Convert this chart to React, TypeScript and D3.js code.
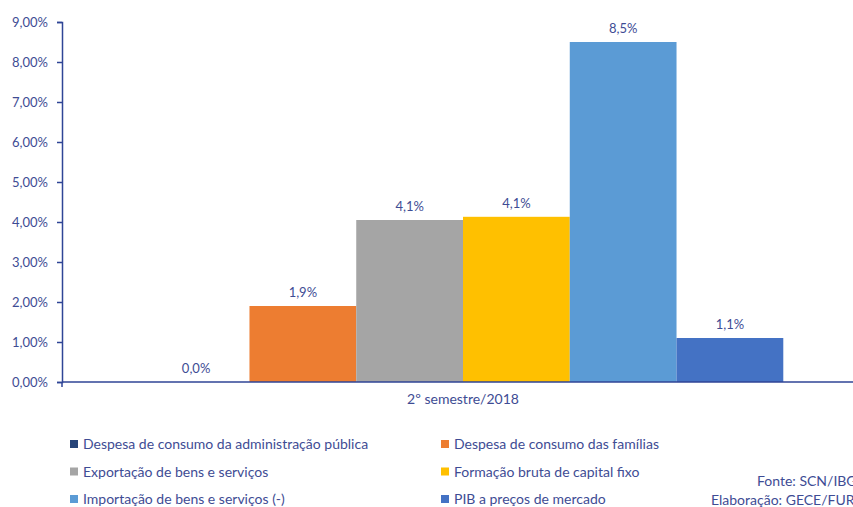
import React, { useEffect, useRef } from 'react';
import * as d3 from 'd3';

const category = '2º semestre/2018';
const seriesNames = [
  'Despesa de consumo da administração pública',
  'Despesa de consumo das famílias',
  'Exportação de bens e serviços',
  'Formação bruta de capital fixo',
  'Importação de bens e serviços (-)',
  'PIB a preços de mercado',
];
const seriesValues = [0.0, 1.9, 4.05, 4.13, 8.5, 1.1];
const valueLabels = ['0,0%', '1,9%', '4,1%', '4,1%', '8,5%', '1,1%'];
const seriesColors = ['#264478', '#ED7D31', '#A5A5A5', '#FFC000', '#5B9BD5', '#4472C4'];
const yTicks = [0, 1, 2, 3, 4, 5, 6, 7, 8, 9];

const W = 853;
const H = 507;
const TEXT = '#3E4C94';
const AXIS = '#2F4596';
const FONT = 'Lato, "Open Sans", sans-serif';

const App: React.FC = () => {
  const svgRef = useRef<SVGSVGElement>(null);

  useEffect(() => {
    const svg = d3.select(svgRef.current);
    svg.selectAll('*').remove();

    const y = d3.scaleLinear().domain([0, 9]).range([382, 22]);
    const x0 = d3.scaleBand().domain([category]).range([62, 864]).paddingOuter(0.126);
    const x1 = d3.scaleBand().domain(seriesNames).range([0, x0.bandwidth()]);

    const g = svg.append('g').attr('font-family', FONT);

    // bars
    g.selectAll('rect.bar')
      .data(seriesNames)
      .enter().append('rect')
      .attr('class', 'bar')
      .attr('x', d => x0(category)! + x1(d)!)
      .attr('y', (d, i) => y(seriesValues[i]))
      .attr('width', x1.bandwidth())
      .attr('height', (d, i) => y(0) - y(seriesValues[i]))
      .attr('fill', (d, i) => seriesColors[i]);

    // value labels
    g.selectAll('text.val')
      .data(seriesNames)
      .enter().append('text')
      .attr('class', 'val')
      .attr('x', d => x0(category)! + x1(d)! + x1.bandwidth() / 2)
      .attr('y', (d, i) => y(seriesValues[i]) - 9)
      .attr('text-anchor', 'middle')
      .attr('font-size', 13)
      .attr('fill', TEXT)
      .text((d, i) => valueLabels[i]);

    // y axis
    const yAxis = g.append('g')
      .attr('transform', 'translate(62,0)')
      .call(d3.axisLeft(y).tickValues(yTicks).tickSizeOuter(0).tickSize(5).tickPadding(9)
        .tickFormat(d => (d as number).toFixed(2).replace('.', ',') + '%'));
    yAxis.select('.domain').attr('stroke', AXIS).attr('stroke-width', 1.5);
    yAxis.selectAll('.tick line').attr('stroke', AXIS).attr('stroke-width', 1.5);
    yAxis.selectAll('.tick text').attr('fill', TEXT).attr('font-size', 13).attr('font-family', FONT);

    // x axis
    const xAxis = g.append('g')
      .attr('transform', `translate(0,${y(0)})`)
      .call(d3.axisBottom(x0).tickSize(0).tickPadding(12));
    xAxis.select('.domain').attr('stroke', AXIS).attr('stroke-width', 1.5).attr('d', `M62,0H${W}`);
    xAxis.selectAll('.tick text').attr('fill', TEXT).attr('font-size', 14).attr('font-family', FONT);
    xAxis.append('line').attr('x1', 62).attr('x2', 62).attr('y1', 0).attr('y2', 5)
      .attr('stroke', AXIS).attr('stroke-width', 1.5);

    // legend
    const legend = g.append('g');
    seriesNames.forEach((name, i) => {
      const col = i % 2;
      const row = Math.floor(i / 2);
      const lx = col === 0 ? 70 : 441;
      const ly = 444 + row * 27.5;
      legend.append('rect').attr('x', lx).attr('y', ly - 4).attr('width', 8).attr('height', 8)
        .attr('fill', seriesColors[i]);
      legend.append('text').attr('x', lx + 13).attr('y', ly + 5)
        .attr('font-size', 14).attr('fill', TEXT).text(name);
    });

    // source
    g.append('text').attr('x', 757).attr('y', 486).attr('font-size', 14).attr('fill', TEXT)
      .text('Fonte: SCN/IBGE');
    g.append('text').attr('x', 711).attr('y', 505).attr('font-size', 14).attr('fill', TEXT)
      .text('Elaboração: GECE/FURG');
  }, []);

  return (
    <svg ref={svgRef} width={W} height={H}
      style={{ position: 'absolute', left: 0, top: 0, background: '#fff' }} />
  );
};

export default App;
